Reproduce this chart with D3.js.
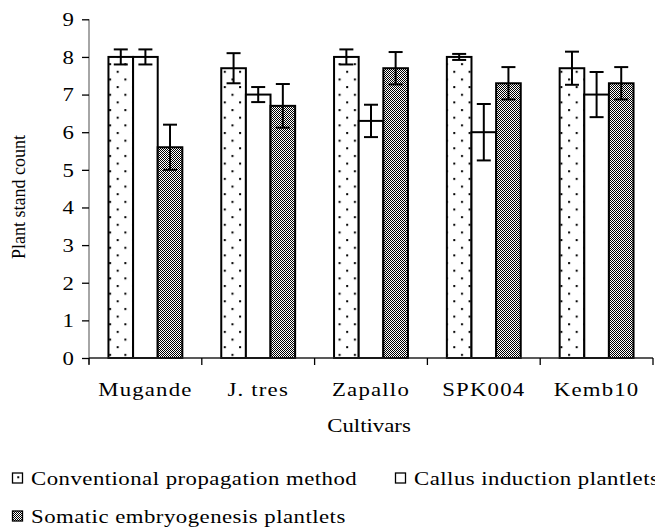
<!DOCTYPE html>
<html><head><meta charset="utf-8">
<script src="https://cdn.jsdelivr.net/npm/d3@7"></script>
<style>body{margin:0;background:#fff}svg{display:block}text{font-family:"Liberation Serif","Times New Roman",serif;fill:#000}</style>
</head><body><svg id="c" width="655" height="527"></svg>
<script>
const categories = ["Mugande", "J. tres", "Zapallo", "SPK004", "Kemb10"];
const seriesNames = ["Conventional propagation method", "Callus induction plantlets", "Somatic embryogenesis plantlets"];
const conventional = [8.0, 7.7, 8.0, 8.0, 7.7];
const conventionalErr = [0.2, 0.4, 0.2, 0.08, 0.44];
const callus = [8.0, 7.0, 6.3, 6.0, 7.0];
const callusErr = [0.2, 0.2, 0.43, 0.75, 0.6];
const somatic = [5.6, 6.7, 7.7, 7.3, 7.3];
const somaticErr = [0.6, 0.58, 0.43, 0.43, 0.43];
const yTicks = [0, 1, 2, 3, 4, 5, 6, 7, 8, 9];

const values = [conventional, callus, somatic];
const errs = [conventionalErr, callusErr, somaticErr];
const SX = 1.2;

const svg = d3.select("#c");
const defs = svg.append("defs");
const pd = defs.append("pattern").attr("id", "dots").attr("patternUnits", "userSpaceOnUse")
  .attr("width", 15.3).attr("height", 15.3);
pd.append("rect").attr("width", 15.3).attr("height", 15.3).attr("fill", "#fff");
pd.append("rect").attr("x", 2).attr("y", 2).attr("width", 2).attr("height", 2).attr("fill", "#000");
pd.append("rect").attr("x", 9.6).attr("y", 9.6).attr("width", 2).attr("height", 2).attr("fill", "#000");
const pc = defs.append("pattern").attr("id", "check").attr("patternUnits", "userSpaceOnUse")
  .attr("width", 2).attr("height", 2);
pc.append("rect").attr("width", 2).attr("height", 2).attr("fill", "#fff");
pc.append("rect").attr("x", 0).attr("y", 0).attr("width", 1).attr("height", 1).attr("fill", "#000");
pc.append("rect").attr("x", 1).attr("y", 1).attr("width", 1).attr("height", 1).attr("fill", "#000");
const fills = ["url(#dots)", "#fff", "url(#check)"];

const x0 = 89, x1 = 653, yTop = 19.3, yBot = 358;
const x = d3.scaleBand().domain(categories).range([x0, x1]).paddingInner(0).paddingOuter(0);
const xs = d3.scaleBand().domain(d3.range(3)).range([0, x.bandwidth()]).paddingInner(0).paddingOuter(0.79);
const y = d3.scaleLinear().domain([0, 9]).range([yBot, yTop]);

function stext(g, tx, ty, str, size, anchor, ls) {
  const t = g.append("g").attr("transform", `translate(${tx},${ty}) scale(${SX},1)`)
    .append("text").attr("text-anchor", anchor).style("font-size", size + "px").text(str);
  if (ls) t.style("letter-spacing", ls + "px");
  return t;
}

// bars
const gb = svg.append("g");
categories.forEach((c, i) => {
  values.forEach((arr, s) => {
    const bx = x(c) + xs(s), bw = xs.bandwidth();
    gb.append("rect").attr("x", bx).attr("y", y(arr[i])).attr("width", bw)
      .attr("height", y(0) - y(arr[i])).attr("fill", fills[s]).attr("stroke", "#000").attr("stroke-width", 2);
  });
});
// error bars
const ge = svg.append("g").attr("stroke", "#000").attr("stroke-width", 2);
categories.forEach((c, i) => {
  values.forEach((arr, s) => {
    const cx = x(c) + xs(s) + xs.bandwidth() / 2;
    const hi = y(arr[i] + errs[s][i]), lo = y(arr[i] - errs[s][i]);
    ge.append("line").attr("x1", cx).attr("x2", cx).attr("y1", hi).attr("y2", lo);
    ge.append("line").attr("x1", cx - 7).attr("x2", cx + 7).attr("y1", hi).attr("y2", hi);
    ge.append("line").attr("x1", cx - 7).attr("x2", cx + 7).attr("y1", lo).attr("y2", lo);
  });
});

// y axis
const ya = svg.append("g").attr("transform", `translate(${x0},0)`)
  .call(d3.axisLeft(y).tickValues(yTicks).tickSize(7).tickFormat(d3.format("d")));
ya.select(".domain").attr("stroke", "#888").attr("stroke-width", 1.5).attr("d", `M0,${yTop}V${yBot + 6}`);
ya.selectAll(".tick line").attr("stroke", "#000").attr("stroke-width", 1.3);
ya.selectAll(".tick text").each(function(d) {
  const t = d3.select(this);
  t.attr("x", null).attr("dy", "0.33em").attr("text-anchor", "end")
    .attr("transform", `translate(-15,0) scale(${SX},1)`)
    .style("font-size", "19px").style("font-family", '"Liberation Serif",serif');
});

// x axis
const xa = svg.append("g").attr("transform", `translate(0,${yBot})`);
xa.append("line").attr("x1", x0).attr("x2", x1).attr("y1", 0).attr("y2", 0).attr("stroke", "#222").attr("stroke-width", 1.5);
const bounds = categories.map(c => x(c)).concat([x.range()[1]]);
xa.selectAll("line.tk").data(bounds).enter().append("line").attr("class", "tk")
  .attr("x1", d => d).attr("x2", d => d).attr("y1", 0).attr("y2", 7).attr("stroke", "#000").attr("stroke-width", 1.3);
categories.forEach(c => stext(svg, x(c) + x.bandwidth() / 2, 396, c, 19, "middle", 1));

// axis titles
stext(svg, x0 + (x1 - x0) / 2 - 2, 432, "Cultivars", 19, "middle");
svg.append("text").attr("transform", `translate(25,197) rotate(-90)`).attr("text-anchor", "middle")
  .style("font-size", "18px").text("Plant stand count");

// legend
const legPos = [[12, 485], [395, 485], [12, 523]];
seriesNames.forEach((n, s) => {
  const [lx, ly] = legPos[s];
  svg.append("rect").attr("x", lx + 0.5).attr("y", ly - 12).attr("width", 10).attr("height", 10)
    .attr("fill", fills[s]).attr("stroke", "#000").attr("stroke-width", 1.3);
  stext(svg, lx + 19, ly, n, 19, "start", 0.4);
});
</script></body></html>
